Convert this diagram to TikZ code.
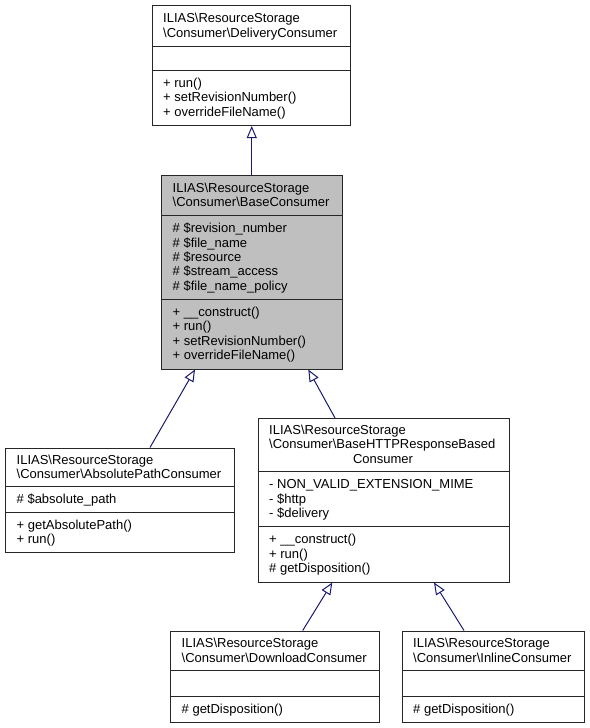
\documentclass[tikz,border=0pt]{standalone}
\usepackage{fontspec}
\setmainfont{Liberation Sans}
\usetikzlibrary{arrows.meta}
\definecolor{edgeblue}{HTML}{191970}
\definecolor{basegray}{HTML}{BFBFBF}
\newcommand\bs{\textbackslash}
\newcommand\lst{\rule[-2pt]{0pt}{13pt}}
\tikzset{
  classbox/.style={draw=black!85, line width=1pt, fill=white, inner sep=0pt, anchor=north west},
  sect/.style={draw=black!85, line width=1pt},
  ctext/.style={inner sep=0pt, anchor=west, align=left, font=\fontsize{13}{14.4}\selectfont},
  ctextc/.style={inner sep=0pt, anchor=center, align=center, font=\fontsize{13}{14.4}\selectfont},
  inherit/.style={draw=edgeblue, line width=1pt, -{Triangle[fill=white, length=12pt, width=10pt]}},
}
\begin{document}
\begin{tikzpicture}[x=1pt,y=-1pt]
\fill[white] (0,0) rectangle (589,728);
\useasboundingbox (0,0) rectangle (589,728);

% Box 1: DeliveryConsumer
\node[classbox, minimum width=198pt, minimum height=120pt] (b1) at (151.5,5) {};
\draw[sect] (151.5,46.5) -- (349.5,46.5);
\draw[sect] (151.5,70.5) -- (349.5,70.5);
\node[ctext] (b1t) at (163,25.75) {\lst ILIAS\bs ResourceStorage\\\lst\bs Consumer\bs DeliveryConsumer};
\node[ctext] (b1m) at (163,97.75) {\lst+ run()\\\lst+ setRevisionNumber()\\\lst+ overrideFileName()};

% Box 2: BaseConsumer
\node[classbox, fill=basegray, minimum width=180.5pt, minimum height=193.5pt] (b2) at (161,175) {};
\draw[sect] (161,215.5) -- (341.5,215.5);
\draw[sect] (161,299) -- (341.5,299);
\node[ctext] (b2t) at (172.5,195.25) {\lst ILIAS\bs ResourceStorage\\\lst\bs Consumer\bs BaseConsumer};
\node[ctext] (b2a) at (172.5,257.25) {\lst\# \$revision\_number\\\lst\# \$file\_name\\\lst\# \$resource\\\lst\# \$stream\_access\\\lst\# \$file\_name\_policy};
\node[ctext] (b2m) at (172.5,333.75) {\lst+ \_\_construct()\\\lst+ run()\\\lst+ setRevisionNumber()\\\lst+ overrideFileName()};

% Box 3: AbsolutePathConsumer
\node[classbox, minimum width=228.5pt, minimum height=104.5pt] (b3) at (5,447.5) {};
\draw[sect] (5,486.5) -- (233.5,486.5);
\draw[sect] (5,512.5) -- (233.5,512.5);
\node[ctext] (b3t) at (16.5,467) {\lst ILIAS\bs ResourceStorage\\\lst\bs Consumer\bs AbsolutePathConsumer};
\node[ctext] (b3a) at (16.5,499.5) {\lst\# \$absolute\_path};
\node[ctext] (b3m) at (16.5,532.25) {\lst+ getAbsolutePath()\\\lst+ run()};

% Box 4: BaseHTTPResponseBasedConsumer
\node[classbox, minimum width=251pt, minimum height=163.5pt] (b4) at (257.5,418) {};
\draw[sect] (257.5,471.5) -- (508.5,471.5);
\draw[sect] (257.5,526.5) -- (508.5,526.5);
\node[ctext] (b4t) at (269,437.55) {\lst ILIAS\bs ResourceStorage\\\lst\bs Consumer\bs BaseHTTPResponseBased};
\node[ctextc] (b4t3) at (383,459.15) {\lst Consumer};
\node[ctext] (b4a) at (269,499) {\lst- NON\_VALID\_EXTENSION\_MIME\\\lst- \$http\\\lst- \$delivery};
\node[ctext] (b4m) at (269,554) {\lst+ \_\_construct()\\\lst+ run()\\\lst\# getDisposition()};

% Box 5: DownloadConsumer
\node[classbox, minimum width=208.5pt, minimum height=91pt] (b5) at (170,630.5) {};
\draw[sect] (170,670.5) -- (378.5,670.5);
\draw[sect] (170,696.5) -- (378.5,696.5);
\node[ctext] (b5t) at (181.5,650.5) {\lst ILIAS\bs ResourceStorage\\\lst\bs Consumer\bs DownloadConsumer};
\node[ctext] (b5m) at (181.5,709) {\lst\# getDisposition()};

% Box 6: InlineConsumer
\node[classbox, minimum width=182pt, minimum height=91pt] (b6) at (401.5,630.5) {};
\draw[sect] (401.5,670.5) -- (583.5,670.5);
\draw[sect] (401.5,696.5) -- (583.5,696.5);
\node[ctext] (b6t) at (413,650.5) {\lst ILIAS\bs ResourceStorage\\\lst\bs Consumer\bs InlineConsumer};
\node[ctext] (b6m) at (413,709) {\lst\# getDisposition()};

% Inheritance edges
\draw[inherit] (b2.north) -- (b2.north |- b1.south);
\draw[inherit] ([xshift=145pt]b3.north west) -- ([xshift=34pt]b2.south west);
\draw[inherit] ([xshift=77.5pt]b4.north west) -- ([xshift=147.3pt]b2.south west);
\draw[inherit] ([xshift=132.7pt]b5.north west) -- ([xshift=74.8pt]b4.south west);
\draw[inherit] ([xshift=62.5pt]b6.north west) -- ([xshift=176.5pt]b4.south west);
\end{tikzpicture}
\end{document}
